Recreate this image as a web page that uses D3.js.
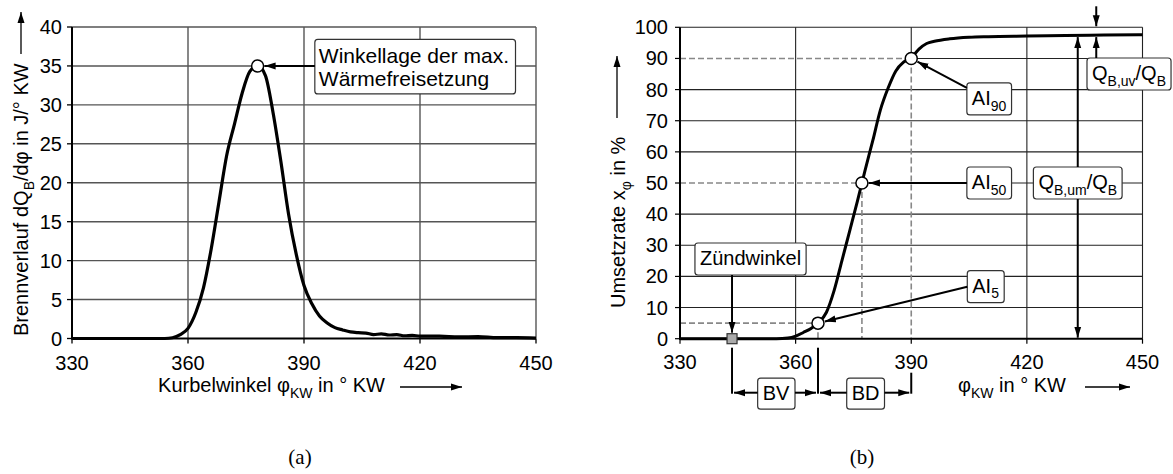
<!DOCTYPE html>
<html>
<head>
<meta charset="utf-8">
<script src="https://cdn.jsdelivr.net/npm/d3@7"></script>
<style>
  body { margin: 0; background: #fff; }
  svg { display: block; font-family: "Liberation Sans", Arial, sans-serif; }
</style>
</head>
<body>
<div id="chart"></div>
<script>
// (a) Brennverlauf
const heatAngles = [330, 340, 350, 354, 356, 358, 360, 362, 364, 366, 368, 370, 372, 374, 376, 378, 380, 382, 384, 386, 388, 390,
    392, 394, 396, 398, 400, 402, 404, 406, 408, 410, 412, 414, 416, 418, 420, 425, 430, 435, 440, 445, 450];
const heatValues = [0, 0, 0, 0, 0.1, 0.5, 1.3, 3.3, 6.5, 11.5, 17.5, 23.5, 27.5, 31.5, 34.3, 35, 33.8, 29, 22.8, 16, 10.8, 6.8,
    4.5, 2.9, 2.0, 1.4, 1.1, 0.85, 0.75, 0.7, 0.5, 0.6, 0.45, 0.5, 0.35, 0.4, 0.3, 0.3, 0.2, 0.25, 0.1, 0.1, 0.05];
const angleTicks = [330, 360, 390, 420, 450];
const heatTicks = [0, 5, 10, 15, 20, 25, 30, 35, 40];
const peakAngle = 378;
const peakValue = 35;

// (b) Umsetzrate
const burnAngles = [330, 340, 350, 355, 358, 360, 362, 364, 366, 368, 370, 372, 374, 376, 378, 380, 382, 384, 386, 388, 390,
    392, 394, 396, 400, 405, 410, 420, 430, 440, 450];
const burnValues = [0, 0, 0, 0, 0.2, 0.8, 2.0, 3.3, 5.2, 8.5, 15.5, 25, 34.5, 44, 54, 63.5, 73.5, 80.5, 86, 88.8, 90.2,
    93, 94.8, 95.5, 96.3, 96.8, 97, 97.2, 97.4, 97.5, 97.6];
const burnTicks = [0, 10, 20, 30, 40, 50, 60, 70, 80, 90, 100];
const ignitionAngle = 343.5;
const aiNames = ['5', '50', '90'];
const aiAngles = [365.8, 377.2, 390];
const aiValues = [5, 50, 90];
const burnEnd = 97.5;

const width = 1173, height = 474;

const svg = d3.select('#chart').append('svg')
    .attr('width', width)
    .attr('height', height);

svg.append('defs').append('marker')
    .attr('id', 'arr')
    .attr('viewBox', '0 -4 11 8')
    .attr('refX', 11)
    .attr('refY', 0)
    .attr('markerWidth', 11)
    .attr('markerHeight', 8)
    .attr('markerUnits', 'userSpaceOnUse')
    .attr('orient', 'auto')
  .append('path')
    .attr('d', 'M0,-3.5L11,0L0,3.5Z')
    .attr('fill', '#000');

function arrow(g, x1, y1, x2, y2, w = 2) {
    g.append('line')
        .attr('x1', x1).attr('y1', y1)
        .attr('x2', x2).attr('y2', y2)
        .attr('stroke', '#000')
        .attr('stroke-width', w)
        .attr('marker-end', 'url(#arr)');
}

// text with subscripts: parts = [[text, isSub], ...]
function rich(sel, parts, size = 20) {
    parts.forEach(([t, sub], i) => {
        const prevSub = i > 0 && parts[i - 1][1];
        const ts = sel.append('tspan').text(t);
        if (sub) ts.attr('font-size', size * 0.7).attr('dy', size * 0.28);
        else if (prevSub) ts.attr('dy', -size * 0.28);
    });
    return sel;
}

function box(g, cx, cy, parts, h = 32) {
    const grp = g.append('g');
    const rect = grp.append('rect');
    const text = rich(grp.append('text')
        .attr('x', cx)
        .attr('y', cy + 6)
        .attr('text-anchor', 'middle')
        .attr('font-size', 20), parts);
    const bb = text.node().getBBox();
    rect.attr('x', bb.x - 5).attr('y', cy - h / 2)
        .attr('width', bb.width + 10).attr('height', h)
        .attr('rx', 3)
        .attr('fill', '#fff')
        .attr('stroke', '#333')
        .attr('stroke-width', 1.2);
    return { x0: bb.x - 5, x1: bb.x + bb.width + 5, y0: cy - h / 2, y1: cy + h / 2 };
}

// ---------- (a) ----------
const xL = d3.scaleLinear().domain([330, 450]).range([72, 536]);
const yL = d3.scaleLinear().domain([0, 40]).range([338.5, 27]);
const gA = svg.append('g');

gA.append('g').selectAll('line')
    .data(heatTicks.slice(1))
    .join('line')
    .attr('x1', xL(330)).attr('x2', xL(450))
    .attr('y1', d => yL(d)).attr('y2', d => yL(d))
    .attr('stroke', '#555').attr('stroke-width', 1.4);

gA.append('g').selectAll('line')
    .data(angleTicks.slice(1))
    .join('line')
    .attr('x1', d => xL(d)).attr('x2', d => xL(d))
    .attr('y1', yL(0)).attr('y2', yL(40))
    .attr('stroke', '#555').attr('stroke-width', 1.4);

gA.append('line')
    .attr('x1', xL(330)).attr('x2', xL(330))
    .attr('y1', yL(0) + 1).attr('y2', yL(40))
    .attr('stroke', '#000').attr('stroke-width', 2);
gA.append('line')
    .attr('x1', xL(330) - 1).attr('x2', xL(450))
    .attr('y1', yL(0)).attr('y2', yL(0))
    .attr('stroke', '#000').attr('stroke-width', 2);

gA.append('g').selectAll('line')
    .data(heatTicks)
    .join('line')
    .attr('x1', xL(330) - 5).attr('x2', xL(330))
    .attr('y1', d => yL(d)).attr('y2', d => yL(d))
    .attr('stroke', '#000').attr('stroke-width', 1.3);
gA.append('g').selectAll('line')
    .data(angleTicks)
    .join('line')
    .attr('x1', d => xL(d)).attr('x2', d => xL(d))
    .attr('y1', yL(0)).attr('y2', yL(0) + 5)
    .attr('stroke', '#000').attr('stroke-width', 1.3);

gA.append('g').selectAll('text')
    .data(heatTicks)
    .join('text')
    .attr('x', xL(330) - 10)
    .attr('y', d => yL(d) + 7)
    .attr('text-anchor', 'end')
    .attr('font-size', 20)
    .text(d => d);
gA.append('g').selectAll('text')
    .data(angleTicks)
    .join('text')
    .attr('x', d => xL(d))
    .attr('y', 370)
    .attr('text-anchor', 'middle')
    .attr('font-size', 20)
    .text(d => d);

gA.append('path')
    .datum(heatAngles.map((a, i) => [a, heatValues[i]]))
    .attr('fill', 'none')
    .attr('stroke', '#000')
    .attr('stroke-width', 3.2)
    .attr('stroke-linejoin', 'round')
    .attr('d', d3.line().x(d => xL(d[0])).y(d => yL(d[1])).curve(d3.curveMonotoneX));

// peak annotation
{
    const bx0 = xL(392.8), bx1 = xL(444.7), by0 = yL(38.4), by1 = yL(31.4);
    gA.append('rect')
        .attr('x', bx0).attr('y', by0)
        .attr('width', bx1 - bx0).attr('height', by1 - by0)
        .attr('rx', 3)
        .attr('fill', '#fff').attr('stroke', '#333').attr('stroke-width', 1.2);
    const t = gA.append('text').attr('font-size', 21);
    t.append('tspan').attr('x', bx0 + 4).attr('y', by0 + 24).text('Winkellage der max.');
    t.append('tspan').attr('x', bx0 + 4).attr('y', by0 + 47).text('Wärmefreisetzung');
    arrow(gA, bx0, yL(peakValue), xL(peakAngle) + 7, yL(peakValue));
    gA.append('circle')
        .attr('cx', xL(peakAngle)).attr('cy', yL(peakValue)).attr('r', 6)
        .attr('fill', '#fff').attr('stroke', '#000').attr('stroke-width', 1.5);
}

// axis titles (a)
rich(gA.append('text')
    .attr('transform', 'translate(28,336) rotate(-90)')
    .attr('font-size', 20),
    [['Brennverlauf dQ'], ['B', true], ['/dφ in J/° KW']]);
arrow(gA, 21, 54, 21, 12, 1.3);

rich(gA.append('text')
    .attr('x', 385)
    .attr('y', 392)
    .attr('text-anchor', 'end')
    .attr('font-size', 20),
    [['Kurbelwinkel φ'], ['KW', true], [' in ° KW']]);
arrow(gA, 400, 387, 462, 387, 1.3);

gA.append('text')
    .attr('x', 300).attr('y', 464)
    .attr('text-anchor', 'middle')
    .attr('font-family', '"Liberation Serif", serif')
    .attr('font-size', 21)
    .text('(a)');

// ---------- (b) ----------
const xR = d3.scaleLinear().domain([330, 450]).range([680, 1142.5]);
const yR = d3.scaleLinear().domain([0, 100]).range([338.7, 27.3]);
const gB = svg.append('g');

// solid grid, starting where the dashed guide ends
gB.append('g').selectAll('line')
    .data(burnTicks.slice(1))
    .join('line')
    .attr('x1', d => aiValues.includes(d) ? xR(aiAngles[aiValues.indexOf(d)]) : xR(330))
    .attr('x2', xR(450))
    .attr('y1', d => yR(d)).attr('y2', d => yR(d))
    .attr('stroke', '#222').attr('stroke-width', 1.1);
gB.append('g').selectAll('line')
    .data(angleTicks.slice(1))
    .join('line')
    .attr('x1', d => xR(d)).attr('x2', d => xR(d))
    .attr('y1', d => aiAngles.includes(d) ? yR(aiValues[aiAngles.indexOf(d)]) : yR(0))
    .attr('y2', yR(100))
    .attr('stroke', '#222').attr('stroke-width', 1.1);

// dashed guides to the axes
aiAngles.forEach((a, i) => {
    gB.append('path')
        .attr('d', `M${xR(330)},${yR(aiValues[i])}H${xR(a)}M${xR(a)},${yR(aiValues[i])}V${yR(0)}`)
        .attr('fill', 'none')
        .attr('stroke', '#888')
        .attr('stroke-width', 1.6)
        .attr('stroke-dasharray', '6,3');
});

gB.append('line')
    .attr('x1', xR(330)).attr('x2', xR(330))
    .attr('y1', yR(0) + 1).attr('y2', yR(100))
    .attr('stroke', '#000').attr('stroke-width', 2);
gB.append('line')
    .attr('x1', xR(330) - 1).attr('x2', xR(450))
    .attr('y1', yR(0)).attr('y2', yR(0))
    .attr('stroke', '#000').attr('stroke-width', 2);

gB.append('g').selectAll('line')
    .data(burnTicks)
    .join('line')
    .attr('x1', xR(330) - 5).attr('x2', xR(330))
    .attr('y1', d => yR(d)).attr('y2', d => yR(d))
    .attr('stroke', '#000').attr('stroke-width', 1.2);
gB.append('g').selectAll('line')
    .data(angleTicks)
    .join('line')
    .attr('x1', d => xR(d)).attr('x2', d => xR(d))
    .attr('y1', yR(0)).attr('y2', yR(0) + 5)
    .attr('stroke', '#000').attr('stroke-width', 1.2);

gB.append('g').selectAll('text')
    .data(burnTicks)
    .join('text')
    .attr('x', xR(330) - 12)
    .attr('y', d => yR(d) + 7)
    .attr('text-anchor', 'end')
    .attr('font-size', 20)
    .text(d => d);
gB.append('g').selectAll('text')
    .data(angleTicks)
    .join('text')
    .attr('x', d => xR(d))
    .attr('y', 369)
    .attr('text-anchor', 'middle')
    .attr('font-size', 20)
    .text(d => d);

gB.append('path')
    .datum(burnAngles.map((a, i) => [a, burnValues[i]]))
    .attr('fill', 'none')
    .attr('stroke', '#000')
    .attr('stroke-width', 3)
    .attr('stroke-linejoin', 'round')
    .attr('d', d3.line().x(d => xR(d[0])).y(d => yR(d[1])).curve(d3.curveMonotoneX));

// AI labels
const aiBoxPos = [[409.3, 16.7], [410.2, 50], [410.2, 77]];
aiAngles.forEach((a, i) => {
    const [ba, bv] = aiBoxPos[i];
    const b = box(gB, xR(ba), yR(bv), [['AI'], [aiNames[i], true]]);
    const px = xR(a), py = yR(aiValues[i]);
    const sy = i === 2 ? b.y0 + 5 : yR(bv);
    const dx = b.x0 - px, dy = sy - py, len = Math.hypot(dx, dy);
    arrow(gB, b.x0, sy, px + dx / len * 7, py + dy / len * 7);
});
aiAngles.forEach((a, i) => {
    gB.append('circle')
        .attr('cx', xR(a)).attr('cy', yR(aiValues[i])).attr('r', 6)
        .attr('fill', '#fff').attr('stroke', '#000').attr('stroke-width', 1.5);
});

// ignition
{
    const b = box(gB, xR(348.3), yR(25.6), [['Zündwinkel']]);
    arrow(gB, xR(ignitionAngle), b.y1, xR(ignitionAngle), yR(0) - 6);
    gB.append('rect')
        .attr('x', xR(ignitionAngle) - 5).attr('y', yR(0) - 5)
        .attr('width', 10).attr('height', 10)
        .attr('fill', '#aaa').attr('stroke', '#333').attr('stroke-width', 1.2);
}

// conversion arrows
{
    const aUm = 433.2, aUv = 438;
    const bUm = box(gB, xR(aUm), yR(50), [['Q'], ['B,um', true], ['/Q'], ['B', true]]);
    arrow(gB, xR(aUm), bUm.y0, xR(aUm), yR(burnEnd) + 2);
    arrow(gB, xR(aUm), bUm.y1, xR(aUm), yR(0) - 1);
    const bUv = box(gB, xR(446.5), yR(85), [['Q'], ['B,uv', true], ['/Q'], ['B', true]]);
    arrow(gB, xR(aUv), bUv.y0, xR(aUv), yR(burnEnd) + 2);
    arrow(gB, xR(aUv), yR(100) - 21, xR(aUv), yR(100) - 1);
}

// BV / BD below the axis
{
    const yb = yR(0) + 54;
    const marks = [ignitionAngle, aiAngles[0], aiAngles[2]];
    const tops = [yR(0) + 9, yR(0) + 9, yR(0) + 34];
    marks.forEach((a, i) => {
        gB.append('line')
            .attr('x1', xR(a)).attr('x2', xR(a))
            .attr('y1', tops[i]).attr('y2', yb + 1)
            .attr('stroke', '#000').attr('stroke-width', 2);
    });
    [['BV', 0, 1], ['BD', 1, 2]].forEach(([name, i0, i1]) => {
        const x0 = xR(marks[i0]), x1 = xR(marks[i1]);
        const b = box(gB, (x0 + x1) / 2 + 1, yb + 1, [[name]], 31);
        arrow(gB, b.x0, yb, x0 + 2, yb);
        arrow(gB, b.x1, yb, x1 - 2, yb);
    });
}

// axis titles (b)
rich(gB.append('text')
    .attr('transform', 'translate(625,308) rotate(-90)')
    .attr('font-size', 20),
    [['Umsetzrate x'], ['φ', true], [' in %']]);
arrow(gB, 617, 118, 617, 56, 1.3);

rich(gB.append('text')
    .attr('x', 958)
    .attr('y', 392)
    .attr('font-size', 20),
    [['φ'], ['KW', true], [' in ° KW']]);
arrow(gB, 1085, 387, 1130, 387, 1.3);

gB.append('text')
    .attr('x', 862).attr('y', 464)
    .attr('text-anchor', 'middle')
    .attr('font-family', '"Liberation Serif", serif')
    .attr('font-size', 21)
    .text('(b)');
</script>
</body>
</html>
